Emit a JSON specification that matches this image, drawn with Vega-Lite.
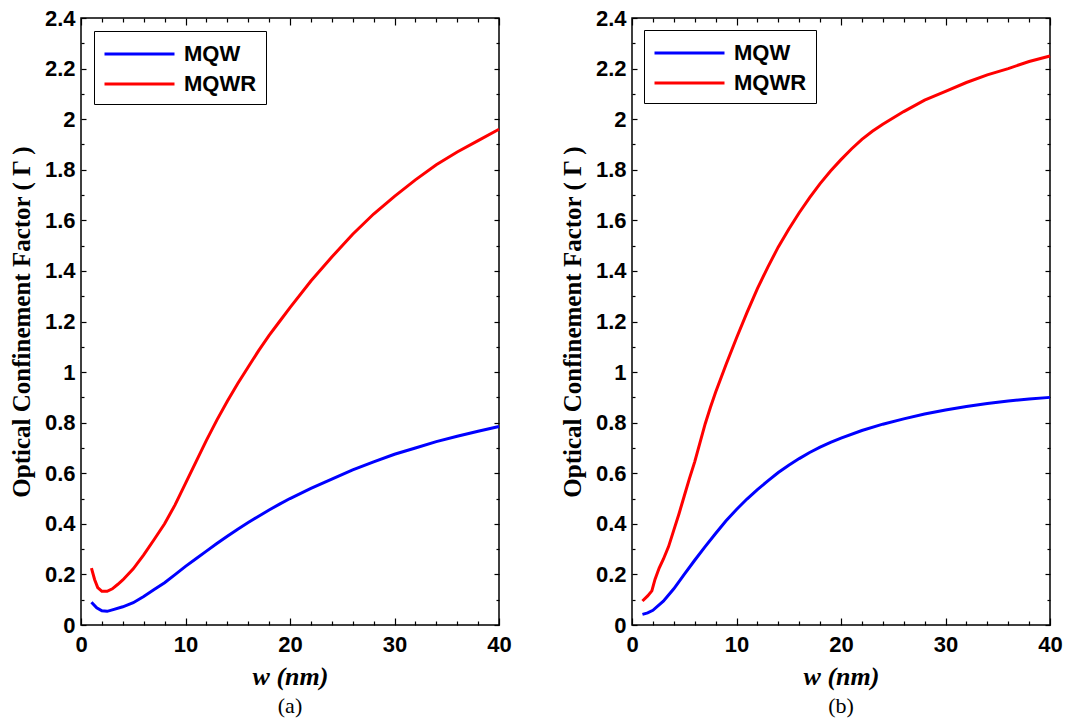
{
  "$schema": "https://vega.github.io/schema/vega-lite/v6.json",
  "background": "white",
  "padding": {"left": 8, "top": 6, "right": 0, "bottom": 0},
  "spacing": 47,
  "datasets": {
    "curves": [
      {"panel": "a", "series": "MQW", "w": 1, "gamma": 0.09},
      {"panel": "a", "series": "MQW", "w": 1.5, "gamma": 0.068},
      {"panel": "a", "series": "MQW", "w": 2, "gamma": 0.056},
      {"panel": "a", "series": "MQW", "w": 2.5, "gamma": 0.054},
      {"panel": "a", "series": "MQW", "w": 3, "gamma": 0.06},
      {"panel": "a", "series": "MQW", "w": 4, "gamma": 0.072},
      {"panel": "a", "series": "MQW", "w": 5, "gamma": 0.088},
      {"panel": "a", "series": "MQW", "w": 6, "gamma": 0.113},
      {"panel": "a", "series": "MQW", "w": 7, "gamma": 0.14},
      {"panel": "a", "series": "MQW", "w": 8, "gamma": 0.167},
      {"panel": "a", "series": "MQW", "w": 9, "gamma": 0.199},
      {"panel": "a", "series": "MQW", "w": 10, "gamma": 0.232},
      {"panel": "a", "series": "MQW", "w": 11, "gamma": 0.262},
      {"panel": "a", "series": "MQW", "w": 12, "gamma": 0.292},
      {"panel": "a", "series": "MQW", "w": 13, "gamma": 0.322},
      {"panel": "a", "series": "MQW", "w": 14, "gamma": 0.351},
      {"panel": "a", "series": "MQW", "w": 15, "gamma": 0.379},
      {"panel": "a", "series": "MQW", "w": 16, "gamma": 0.405},
      {"panel": "a", "series": "MQW", "w": 17, "gamma": 0.43},
      {"panel": "a", "series": "MQW", "w": 18, "gamma": 0.455},
      {"panel": "a", "series": "MQW", "w": 19, "gamma": 0.478},
      {"panel": "a", "series": "MQW", "w": 20, "gamma": 0.5},
      {"panel": "a", "series": "MQW", "w": 22, "gamma": 0.54},
      {"panel": "a", "series": "MQW", "w": 24, "gamma": 0.577},
      {"panel": "a", "series": "MQW", "w": 26, "gamma": 0.613},
      {"panel": "a", "series": "MQW", "w": 28, "gamma": 0.645},
      {"panel": "a", "series": "MQW", "w": 30, "gamma": 0.675},
      {"panel": "a", "series": "MQW", "w": 32, "gamma": 0.7},
      {"panel": "a", "series": "MQW", "w": 34, "gamma": 0.725},
      {"panel": "a", "series": "MQW", "w": 36, "gamma": 0.746},
      {"panel": "a", "series": "MQW", "w": 38, "gamma": 0.766},
      {"panel": "a", "series": "MQW", "w": 40, "gamma": 0.785},
      {"panel": "a", "series": "MQWR", "w": 1, "gamma": 0.225},
      {"panel": "a", "series": "MQWR", "w": 1.3, "gamma": 0.18},
      {"panel": "a", "series": "MQWR", "w": 1.6, "gamma": 0.148},
      {"panel": "a", "series": "MQWR", "w": 2, "gamma": 0.133},
      {"panel": "a", "series": "MQWR", "w": 2.5, "gamma": 0.133},
      {"panel": "a", "series": "MQWR", "w": 3, "gamma": 0.143},
      {"panel": "a", "series": "MQWR", "w": 3.5, "gamma": 0.16},
      {"panel": "a", "series": "MQWR", "w": 4, "gamma": 0.178},
      {"panel": "a", "series": "MQWR", "w": 5, "gamma": 0.222},
      {"panel": "a", "series": "MQWR", "w": 6, "gamma": 0.277},
      {"panel": "a", "series": "MQWR", "w": 7, "gamma": 0.338},
      {"panel": "a", "series": "MQWR", "w": 8, "gamma": 0.4},
      {"panel": "a", "series": "MQWR", "w": 9, "gamma": 0.475},
      {"panel": "a", "series": "MQWR", "w": 10, "gamma": 0.56},
      {"panel": "a", "series": "MQWR", "w": 11, "gamma": 0.645},
      {"panel": "a", "series": "MQWR", "w": 12, "gamma": 0.73},
      {"panel": "a", "series": "MQWR", "w": 13, "gamma": 0.81},
      {"panel": "a", "series": "MQWR", "w": 14, "gamma": 0.885},
      {"panel": "a", "series": "MQWR", "w": 15, "gamma": 0.955},
      {"panel": "a", "series": "MQWR", "w": 16, "gamma": 1.02},
      {"panel": "a", "series": "MQWR", "w": 17, "gamma": 1.085},
      {"panel": "a", "series": "MQWR", "w": 18, "gamma": 1.145},
      {"panel": "a", "series": "MQWR", "w": 19, "gamma": 1.2},
      {"panel": "a", "series": "MQWR", "w": 20, "gamma": 1.255},
      {"panel": "a", "series": "MQWR", "w": 22, "gamma": 1.36},
      {"panel": "a", "series": "MQWR", "w": 24, "gamma": 1.455},
      {"panel": "a", "series": "MQWR", "w": 26, "gamma": 1.545},
      {"panel": "a", "series": "MQWR", "w": 28, "gamma": 1.625},
      {"panel": "a", "series": "MQWR", "w": 30, "gamma": 1.695},
      {"panel": "a", "series": "MQWR", "w": 32, "gamma": 1.76},
      {"panel": "a", "series": "MQWR", "w": 34, "gamma": 1.82},
      {"panel": "a", "series": "MQWR", "w": 36, "gamma": 1.87},
      {"panel": "a", "series": "MQWR", "w": 38, "gamma": 1.915},
      {"panel": "a", "series": "MQWR", "w": 40, "gamma": 1.96},
      {"panel": "b", "series": "MQW", "w": 1, "gamma": 0.042},
      {"panel": "b", "series": "MQW", "w": 1.5, "gamma": 0.048},
      {"panel": "b", "series": "MQW", "w": 2, "gamma": 0.058},
      {"panel": "b", "series": "MQW", "w": 3, "gamma": 0.094},
      {"panel": "b", "series": "MQW", "w": 4, "gamma": 0.143},
      {"panel": "b", "series": "MQW", "w": 5, "gamma": 0.2},
      {"panel": "b", "series": "MQW", "w": 6, "gamma": 0.256},
      {"panel": "b", "series": "MQW", "w": 7, "gamma": 0.31},
      {"panel": "b", "series": "MQW", "w": 8, "gamma": 0.362},
      {"panel": "b", "series": "MQW", "w": 9, "gamma": 0.412},
      {"panel": "b", "series": "MQW", "w": 10, "gamma": 0.457},
      {"panel": "b", "series": "MQW", "w": 11, "gamma": 0.498},
      {"panel": "b", "series": "MQW", "w": 12, "gamma": 0.535},
      {"panel": "b", "series": "MQW", "w": 13, "gamma": 0.57},
      {"panel": "b", "series": "MQW", "w": 14, "gamma": 0.603},
      {"panel": "b", "series": "MQW", "w": 15, "gamma": 0.632},
      {"panel": "b", "series": "MQW", "w": 16, "gamma": 0.658},
      {"panel": "b", "series": "MQW", "w": 17, "gamma": 0.682},
      {"panel": "b", "series": "MQW", "w": 18, "gamma": 0.703},
      {"panel": "b", "series": "MQW", "w": 19, "gamma": 0.722},
      {"panel": "b", "series": "MQW", "w": 20, "gamma": 0.739},
      {"panel": "b", "series": "MQW", "w": 22, "gamma": 0.769},
      {"panel": "b", "series": "MQW", "w": 24, "gamma": 0.794},
      {"panel": "b", "series": "MQW", "w": 26, "gamma": 0.815},
      {"panel": "b", "series": "MQW", "w": 28, "gamma": 0.834},
      {"panel": "b", "series": "MQW", "w": 30, "gamma": 0.85},
      {"panel": "b", "series": "MQW", "w": 32, "gamma": 0.864},
      {"panel": "b", "series": "MQW", "w": 34, "gamma": 0.876},
      {"panel": "b", "series": "MQW", "w": 36, "gamma": 0.886},
      {"panel": "b", "series": "MQW", "w": 38, "gamma": 0.894},
      {"panel": "b", "series": "MQW", "w": 40, "gamma": 0.9},
      {"panel": "b", "series": "MQWR", "w": 1, "gamma": 0.095},
      {"panel": "b", "series": "MQWR", "w": 1.5, "gamma": 0.115},
      {"panel": "b", "series": "MQWR", "w": 1.9, "gamma": 0.135},
      {"panel": "b", "series": "MQWR", "w": 2.2, "gamma": 0.18},
      {"panel": "b", "series": "MQWR", "w": 2.6, "gamma": 0.225},
      {"panel": "b", "series": "MQWR", "w": 3, "gamma": 0.26},
      {"panel": "b", "series": "MQWR", "w": 3.5, "gamma": 0.31},
      {"panel": "b", "series": "MQWR", "w": 4, "gamma": 0.375},
      {"panel": "b", "series": "MQWR", "w": 4.5, "gamma": 0.44},
      {"panel": "b", "series": "MQWR", "w": 5, "gamma": 0.51},
      {"panel": "b", "series": "MQWR", "w": 5.5, "gamma": 0.58},
      {"panel": "b", "series": "MQWR", "w": 6, "gamma": 0.645},
      {"panel": "b", "series": "MQWR", "w": 6.5, "gamma": 0.72},
      {"panel": "b", "series": "MQWR", "w": 7, "gamma": 0.795},
      {"panel": "b", "series": "MQWR", "w": 7.5, "gamma": 0.86},
      {"panel": "b", "series": "MQWR", "w": 8, "gamma": 0.92},
      {"panel": "b", "series": "MQWR", "w": 9, "gamma": 1.03},
      {"panel": "b", "series": "MQWR", "w": 10, "gamma": 1.135},
      {"panel": "b", "series": "MQWR", "w": 11, "gamma": 1.235},
      {"panel": "b", "series": "MQWR", "w": 12, "gamma": 1.33},
      {"panel": "b", "series": "MQWR", "w": 13, "gamma": 1.415},
      {"panel": "b", "series": "MQWR", "w": 14, "gamma": 1.495},
      {"panel": "b", "series": "MQWR", "w": 15, "gamma": 1.565},
      {"panel": "b", "series": "MQWR", "w": 16, "gamma": 1.63},
      {"panel": "b", "series": "MQWR", "w": 17, "gamma": 1.69},
      {"panel": "b", "series": "MQWR", "w": 18, "gamma": 1.745},
      {"panel": "b", "series": "MQWR", "w": 19, "gamma": 1.795},
      {"panel": "b", "series": "MQWR", "w": 20, "gamma": 1.84},
      {"panel": "b", "series": "MQWR", "w": 21, "gamma": 1.882},
      {"panel": "b", "series": "MQWR", "w": 22, "gamma": 1.92},
      {"panel": "b", "series": "MQWR", "w": 23, "gamma": 1.952},
      {"panel": "b", "series": "MQWR", "w": 24, "gamma": 1.98},
      {"panel": "b", "series": "MQWR", "w": 26, "gamma": 2.03},
      {"panel": "b", "series": "MQWR", "w": 28, "gamma": 2.075},
      {"panel": "b", "series": "MQWR", "w": 30, "gamma": 2.11},
      {"panel": "b", "series": "MQWR", "w": 32, "gamma": 2.145},
      {"panel": "b", "series": "MQWR", "w": 34, "gamma": 2.175},
      {"panel": "b", "series": "MQWR", "w": 36, "gamma": 2.2},
      {"panel": "b", "series": "MQWR", "w": 38, "gamma": 2.228},
      {"panel": "b", "series": "MQWR", "w": 40, "gamma": 2.25}
    ]
  },
  "resolve": {"scale": {"color": "independent"}, "legend": {"color": "independent"}},
  "hconcat": [
    {
      "width": 418,
      "height": 607,
      "title": {"text": "(a)", "orient": "bottom", "font": "Liberation Serif", "fontSize": 22, "fontWeight": "normal", "color": "black", "offset": 7},
      "data": {"name": "curves"},
      "transform": [{"filter": "datum.panel === 'a'"}],
      "layer": [
        {
          "mark": {"type": "line", "strokeWidth": 3},
          "encoding": {
            "x": {"field": "w", "type": "quantitative", "scale": {"domain": [0, 40], "nice": false, "zero": false},
              "axis": {"orient": "bottom", "title": "w (nm)", "values": [0,2,4,6,8,10,12,14,16,18,20,22,24,26,28,30,32,34,36,38,40],
                "labelExpr": "datum.value % 10 === 0 ? datum.label : ''",
                "tickSize": {"condition": {"test": "datum.value % 10 === 0", "value": -7}, "value": -4},
                "labelPadding": 16, "titlePadding": 5}},
            "y": {"field": "gamma", "type": "quantitative", "scale": {"domain": [0, 2.4], "nice": false, "zero": false},
              "axis": {"orient": "left", "title": "Optical Confinement Factor ( Γ )", "format": "~g",
                "values": [0,0.1,0.2,0.3,0.4,0.5,0.6,0.7,0.8,0.9,1,1.1,1.2,1.3,1.4,1.5,1.6,1.7,1.8,1.9,2,2.1,2.2,2.3,2.4],
                "labelExpr": "round(datum.value * 10) % 2 === 0 ? datum.label : ''",
                "tickSize": {"condition": {"test": "round(datum.value * 10) % 2 === 0", "value": -5}, "value": -3},
                "labelPadding": 11, "titlePadding": 10}},
            "color": {"field": "series", "type": "nominal", "scale": {"domain": ["MQW", "MQWR"], "range": ["#0000ff", "#ff0000"]},
              "legend": {"orient": "top-left", "offset": 13}}
          }
        },
        {
          "mark": {"type": "line", "opacity": 0},
          "encoding": {
            "x": {"field": "w", "type": "quantitative", "scale": {"domain": [0, 40], "nice": false, "zero": false},
              "axis": {"orient": "top", "title": null, "labels": false, "values": [0,2,4,6,8,10,12,14,16,18,20,22,24,26,28,30,32,34,36,38,40],
                "tickSize": {"condition": {"test": "datum.value % 10 === 0", "value": -7}, "value": -4}}},
            "y": {"field": "gamma", "type": "quantitative", "scale": {"domain": [0, 2.4], "nice": false, "zero": false},
              "axis": {"orient": "right", "title": null, "labels": false,
                "values": [0,0.1,0.2,0.3,0.4,0.5,0.6,0.7,0.8,0.9,1,1.1,1.2,1.3,1.4,1.5,1.6,1.7,1.8,1.9,2,2.1,2.2,2.3,2.4],
                "tickSize": {"condition": {"test": "round(datum.value * 10) % 2 === 0", "value": -5}, "value": -3}}},
            "detail": {"field": "series"}
          }
        }
      ],
      "resolve": {"axis": {"x": "independent", "y": "independent"}}
    },
    {
      "width": 418,
      "height": 607,
      "title": {"text": "(b)", "orient": "bottom", "font": "Liberation Serif", "fontSize": 22, "fontWeight": "normal", "color": "black", "offset": 7},
      "data": {"name": "curves"},
      "transform": [{"filter": "datum.panel === 'b'"}],
      "layer": [
        {
          "mark": {"type": "line", "strokeWidth": 3},
          "encoding": {
            "x": {"field": "w", "type": "quantitative", "scale": {"domain": [0, 40], "nice": false, "zero": false},
              "axis": {"orient": "bottom", "title": "w (nm)", "values": [0,2,4,6,8,10,12,14,16,18,20,22,24,26,28,30,32,34,36,38,40],
                "labelExpr": "datum.value % 10 === 0 ? datum.label : ''",
                "tickSize": {"condition": {"test": "datum.value % 10 === 0", "value": -7}, "value": -4},
                "labelPadding": 16, "titlePadding": 5}},
            "y": {"field": "gamma", "type": "quantitative", "scale": {"domain": [0, 2.4], "nice": false, "zero": false},
              "axis": {"orient": "left", "title": "Optical Confinement Factor ( Γ )", "format": "~g",
                "values": [0,0.1,0.2,0.3,0.4,0.5,0.6,0.7,0.8,0.9,1,1.1,1.2,1.3,1.4,1.5,1.6,1.7,1.8,1.9,2,2.1,2.2,2.3,2.4],
                "labelExpr": "round(datum.value * 10) % 2 === 0 ? datum.label : ''",
                "tickSize": {"condition": {"test": "round(datum.value * 10) % 2 === 0", "value": -5}, "value": -3},
                "labelPadding": 11, "titlePadding": 10}},
            "color": {"field": "series", "type": "nominal", "scale": {"domain": ["MQW", "MQWR"], "range": ["#0000ff", "#ff0000"]},
              "legend": {"orient": "top-left", "offset": 12}}
          }
        },
        {
          "mark": {"type": "line", "opacity": 0},
          "encoding": {
            "x": {"field": "w", "type": "quantitative", "scale": {"domain": [0, 40], "nice": false, "zero": false},
              "axis": {"orient": "top", "title": null, "labels": false, "values": [0,2,4,6,8,10,12,14,16,18,20,22,24,26,28,30,32,34,36,38,40],
                "tickSize": {"condition": {"test": "datum.value % 10 === 0", "value": -7}, "value": -4}}},
            "y": {"field": "gamma", "type": "quantitative", "scale": {"domain": [0, 2.4], "nice": false, "zero": false},
              "axis": {"orient": "right", "title": null, "labels": false,
                "values": [0,0.1,0.2,0.3,0.4,0.5,0.6,0.7,0.8,0.9,1,1.1,1.2,1.3,1.4,1.5,1.6,1.7,1.8,1.9,2,2.1,2.2,2.3,2.4],
                "tickSize": {"condition": {"test": "round(datum.value * 10) % 2 === 0", "value": -5}, "value": -3}}},
            "detail": {"field": "series"}
          }
        }
      ],
      "resolve": {"axis": {"x": "independent", "y": "independent"}}
    }
  ],
  "config": {
    "view": {"stroke": "black", "strokeWidth": 1.5},
    "axis": {
      "domain": false, "grid": false, "labelFlush": false,
      "labelFont": "Liberation Sans", "labelFontWeight": "bold", "labelFontSize": 22, "labelColor": "black",
      "tickColor": "black", "tickWidth": 1.2,
      "titleColor": "black", "labelOverlap": false
    },
    "axisX": {"titleFont": "Liberation Serif", "titleFontWeight": "bold", "titleFontStyle": "italic", "titleFontSize": 26},
    "axisY": {"titleFont": "Liberation Serif", "titleFontWeight": "bold", "titleFontSize": 25},
    "legend": {
      "title": null, "strokeColor": "black", "fillColor": "white", "padding": 9,
      "symbolType": "M-1,0H4.6", "symbolSize": 625, "symbolStrokeWidth": 3,
      "labelFont": "Liberation Sans", "labelFontWeight": "bold", "labelFontSize": 22, "labelColor": "black",
      "labelOffset": 53, "rowPadding": 5
    }
  }
}
